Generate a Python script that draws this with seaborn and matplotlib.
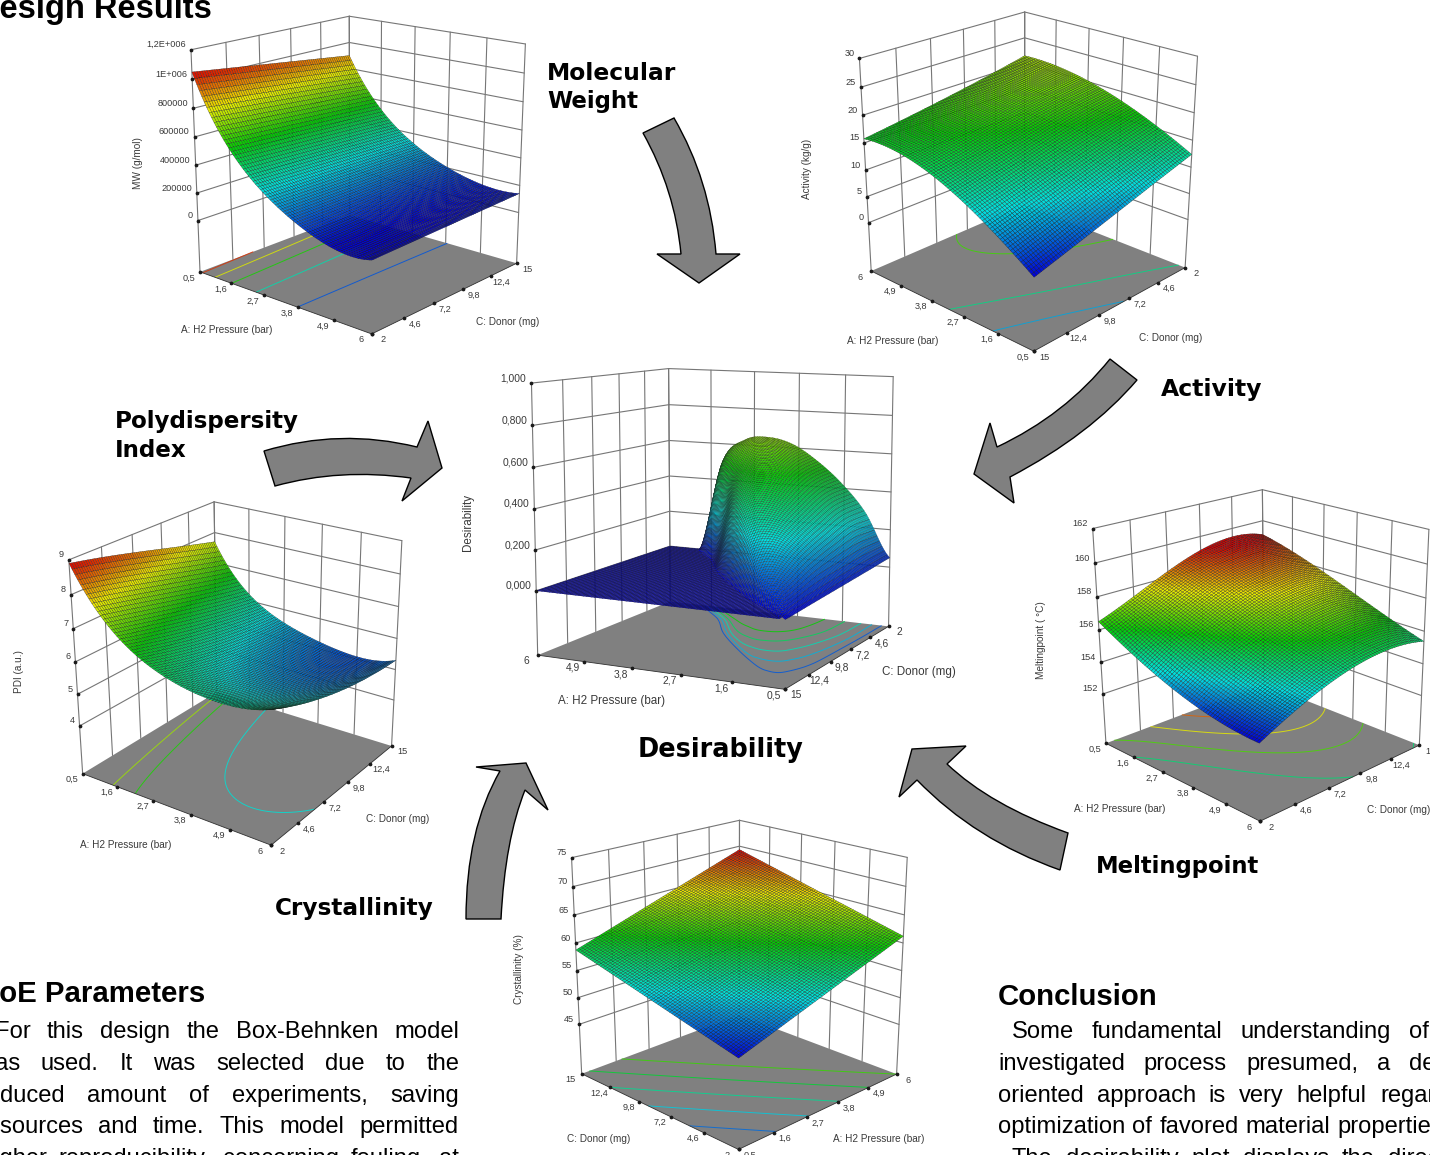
import numpy as np
import matplotlib
matplotlib.use("Agg")
import matplotlib.pyplot as plt
from matplotlib.path import Path
from matplotlib.patches import PathPatch
from mpl_toolkits.mplot3d.art3d import Poly3DCollection
import seaborn as sns

# ---------- data ----------
A_TICKS = [0.5, 1.6, 2.7, 3.8, 4.9, 6.0]
C_TICKS = [2.0, 4.6, 7.2, 9.8, 12.4, 15.0]
A_LABELS = ["0,5", "1,6", "2,7", "3,8", "4,9", "6"]
C_LABELS = ["2", "4,6", "7,2", "9,8", "12,4", "15"]

MW_Z = [[1050000, 1020000, 990000, 960000, 930000, 900000],
        [600000, 586000, 572000, 558000, 544000, 530000],
        [360000, 354000, 348000, 342000, 336000, 330000],
        [190000, 192000, 194000, 196000, 198000, 200000],
        [110000, 116000, 122000, 128000, 134000, 140000],
        [110000, 116000, 122000, 128000, 134000, 140000]]
ACT_Z = [[12.4, 10.7, 8.9, 7.2, 5.4, 3.7],
         [15.5, 14.2, 12.6, 11.0, 9.4, 7.8],
         [18.3, 17.3, 16.0, 14.6, 13.2, 11.8],
         [20.2, 19.4, 18.3, 16.9, 15.7, 14.4],
         [21.2, 20.5, 19.2, 18.0, 16.8, 15.6],
         [21.5, 20.2, 18.9, 17.8, 16.8, 15.8]]
PDI_Z = [[8.9, 8.7, 8.45, 8.2, 7.95, 7.7],
         [7.35, 7.1, 6.85, 6.6, 6.4, 6.2],
         [6.6, 6.3, 6.05, 5.85, 5.7, 5.6],
         [6.2, 5.85, 5.6, 5.4, 5.25, 5.2],
         [6.15, 5.8, 5.5, 5.3, 5.15, 5.1],
         [6.4, 6.0, 5.7, 5.5, 5.35, 5.3]]
MELT_Z = [[156.5, 157.4, 158.4, 159.1, 159.5, 159.1],
          [155.5, 156.7, 157.8, 158.5, 158.8, 158.5],
          [154.6, 156.0, 157.1, 157.8, 158.1, 157.8],
          [153.9, 155.3, 156.4, 157.1, 157.3, 157.0],
          [153.5, 154.7, 155.7, 156.3, 156.5, 156.1],
          [153.3, 154.3, 155.1, 155.6, 155.7, 155.4]]
CRYST_Z = [[51.0, 52.5, 54.1, 55.6, 57.2, 58.7],
           [53.0, 54.6, 56.2, 57.7, 59.3, 60.8],
           [55.1, 56.7, 58.3, 59.9, 61.4, 63.0],
           [57.1, 58.7, 60.3, 62.0, 63.6, 65.1],
           [59.2, 60.8, 62.4, 64.0, 65.6, 67.2],
           [61.2, 62.8, 64.4, 66.1, 67.7, 69.3]]
# Desirability: where the hump ends on the A axis for each C tick, and its height
# from A = 0.5 to that end in eight equal steps (rows: C ticks).
DES_EDGE = [5.2, 4.3, 3.6, 2.7, 1.7, 0.6]
DES_PROFILE = [[.05, .28, .43, .54, .62, .65, .63, .50, .00],
               [.04, .24, .37, .46, .53, .56, .54, .43, .00],
               [.03, .18, .28, .35, .40, .42, .41, .32, .00],
               [.02, .115, .18, .225, .26, .27, .26, .21, .00],
               [.01, .05, .075, .095, .11, .115, .11, .09, .00],
               [.00, .005, .008, .01, .01, .01, .01, .008, .00]]

MW_TICKS = [0, 200000, 400000, 600000, 800000, 1000000, 1200000]
MW_TLAB = ["0", "200000", "400000", "600000", "800000", "1E+006", "1,2E+006"]
ACT_TICKS = [0, 5, 10, 15, 20, 25, 30]
DES_TICKS = [0, .2, .4, .6, .8, 1.0]
DES_TLAB = ["0,000", "0,200", "0,400", "0,600", "0,800", "1,000"]
PDI_TICKS = [4, 5, 6, 7, 8, 9]
MELT_TICKS = [152, 154, 156, 158, 160, 162]
CRYST_TICKS = [45, 50, 55, 60, 65, 70, 75]

PARA_LEFT = ["For this design the Box-Behnken model",
             "was used. It was selected due to the",
             "reduced amount of experiments, saving",
             "resources and time. This model permitted",
             "higher reproducibility, concerning fouling, at"]
PARA_RIGHT = ["Some fundamental understanding of the",
              "investigated process presumed, a design",
              "oriented approach is very helpful regarding",
              "optimization of favored material properties.",
              "The desirability plot displays the direct"]

# ---------- style ----------
sns.set_theme(style="white")
plt.rcParams["font.family"] = ["Liberation Sans", "DejaVu Sans"]
W, H = 1430, 1155
SURF = sns.blend_palette([(0, 0, .85), (0, .88, .88), (0, .82, 0), (.92, .92, 0), (.85, 0, 0)],
                         n_colors=256, as_cmap=True)
fig = plt.figure(figsize=(W / 100, H / 100), dpi=100, facecolor="white")
bg = fig.add_axes([0, 0, 1, 1], zorder=0)
bg.set_xlim(0, W); bg.set_ylim(H, 0); bg.axis("off")
renderer = fig.canvas.get_renderer()


def cr_weights(n, t):
    t = np.asarray(t, float)
    i = np.clip(np.floor(t).astype(int), 0, n - 2)
    u = t - i
    w = np.zeros((len(t), n))
    for k in range(len(t)):
        a = [max(i[k] - 1, 0), i[k], i[k] + 1, min(i[k] + 2, n - 1)]
        x = u[k]
        c = [-.5 * x**3 + x**2 - .5 * x, 1.5 * x**3 - 2.5 * x**2 + 1,
             -1.5 * x**3 + 2 * x**2 + .5 * x, .5 * x**3 - .5 * x**2]
        for j, q in zip(a, c):
            w[k, j] += q
    return w


def smooth_weights(nodes, fine, deg):
    nodes = np.asarray(nodes, float)
    s = lambda v: (np.asarray(v) - nodes[0]) / (nodes[-1] - nodes[0]) * 2 - 1
    return np.polynomial.polynomial.polyvander(s(fine), deg) @ np.linalg.pinv(
        np.polynomial.polynomial.polyvander(s(nodes), deg))


M_FINE = 72
AF = np.linspace(A_TICKS[0], A_TICKS[-1], M_FINE)
CF = np.linspace(C_TICKS[0], C_TICKS[-1], M_FINE)


def smooth_surface(Z, deg=(4, 3)):
    return smooth_weights(A_TICKS, AF, deg[0]) @ np.asarray(Z, float) @ smooth_weights(C_TICKS, CF, deg[1]).T


def desirability_surface():
    af = np.linspace(A_TICKS[0], A_TICKS[-1], 90)
    cf = np.linspace(C_TICKS[0], C_TICKS[-1], 90)
    tc = (cf - cf[0]) / (cf[-1] - cf[0]) * 5
    wc = cr_weights(6, tc)
    edge = wc @ np.asarray(DES_EDGE)
    prof = wc @ np.asarray(DES_PROFILE)
    out = np.zeros((len(af), len(cf)))
    for j in range(len(cf)):
        s = (af - af[0]) / (edge[j] - af[0])
        inside = s <= 1
        out[inside, j] = cr_weights(9, s[inside] * 8) @ prof[j]
    return af, cf, np.clip(out, 0, None)


def fit_camera(world, plane, lo, hi):
    """3x4 camera from box corners to the 2D plane of the axes."""
    world = np.asarray(world, float)
    lo, hi = np.asarray(lo, float), np.asarray(hi, float)
    nw = (world - lo) / (hi - lo)
    rows = []
    for (x, y, z), (u, v) in zip(nw, plane):
        rows.append([x, y, z, 1, 0, 0, 0, 0, -u * x, -u * y, -u * z, -u])
        rows.append([0, 0, 0, 0, x, y, z, 1, -v * x, -v * y, -v * z, -v])
    P = np.linalg.svd(np.array(rows))[2][-1].reshape(3, 4)
    if P[2] @ np.array([.5, .5, .5, 1]) < 0:
        P = -P
    N = np.diag(list(1 / (hi - lo)) + [1.0])
    N[:3, 3] = -lo / (hi - lo)
    P = P @ N
    return np.vstack([P[0], P[1], [0, 0, 0, -1], P[2]])


def panel(af, cf, Zf, floor, top, zticks, zlabels, corners, pix, vmin, vmax, levels,
          titles, fs=6.6, title_fs=7.2, zfs=None, mesh=.2):
    xs = [p[0] for p in pix.values()]
    ys = [p[1] for p in pix.values()]
    cx, cy = (min(xs) + max(xs)) / 2, (min(ys) + max(ys)) / 2
    s = max(max(xs) - min(xs), max(ys) - min(ys)) * 1.15
    ax = fig.add_axes([(cx - s / 2) / W, 1 - (cy + s / 2) / H, s / W, s / H],
                      projection="3d", zorder=2)
    ax.set_axis_off()
    ax.patch.set_visible(False)
    ax.computed_zorder = False
    ax.apply_aspect()
    inv = ax.transData.inverted()

    def to_plane(p):
        return inv.transform((p[0], H - p[1]))

    world, plane = [], []
    for name in ("left", "front", "right", "back"):
        world.append((*corners[name], floor)); plane.append(to_plane(pix[name]))
    for name in ("left", "back", "right"):
        world.append((*corners[name], top)); plane.append(to_plane(pix["top_" + name]))
    M = fit_camera(world, plane, (0.5, 2, floor), (6, 15, top))
    ax.get_proj = lambda: M

    AA, CC = np.meshgrid(af, cf, indexing="ij")
    grey = "#767676"
    lw = .8
    for wall in ("left", "right"):
        p0, p1 = corners["back"], corners[wall]
        for z in zticks:
            ax.plot3D([p0[0], p1[0]], [p0[1], p1[1]], [z, z], color=grey, lw=lw, zorder=1)
        if p0[0] != p1[0]:
            for a in A_TICKS:
                ax.plot3D([a, a], [p0[1], p0[1]], [floor, top], color=grey, lw=lw, zorder=1)
        else:
            for c in C_TICKS:
                ax.plot3D([p0[0], p0[0]], [c, c], [floor, top], color=grey, lw=lw, zorder=1)
    quad = [(*corners[k], floor) for k in ("left", "front", "right", "back")]
    ax.add_collection3d(Poly3DCollection([quad], facecolor="#808080", edgecolor="none", zorder=2))
    colors = [SURF((l - vmin) / (vmax - vmin)) for l in levels]
    ax.contour(AA, CC, Zf, levels=levels, zdir="z", offset=floor, colors=colors,
               linewidths=.7, alpha=.85, zorder=3)
    ax.plot_surface(AA, CC, Zf, rstride=1, cstride=1, cmap=SURF, vmin=vmin, vmax=vmax,
                    edgecolor="k", linewidth=mesh, shade=False, antialiased=True, zorder=4)

    ax.plot3D(*zip(*[(*corners["left"], floor), (*corners["front"], floor), (*corners["right"], floor)]),
              color="#303030", lw=.6, zorder=5)

    def put(x, y, z, label, dx, dy, ha, size):
        v = M @ np.array([x, y, z, 1.0])
        ax.annotate(label, xy=(v[0] / v[3], v[1] / v[3]), xytext=(dx, dy), textcoords="offset pixels",
                    ha=ha, va="center", fontsize=size, color="#3a3a3a", annotation_clip=False, zorder=7)
        ax.plot3D([x], [y], [z], ls="none", marker="o", ms=1.7, color="k", zorder=6)

    def edge(p0, p1, dx, dy):
        if p0[0] != p1[0]:
            for a, lab in zip(A_TICKS, A_LABELS):
                put(a, p0[1], floor, lab, dx, dy, "center", fs)
        else:
            for c, lab in zip(C_TICKS, C_LABELS):
                put(p0[0], c, floor, lab, dx, dy, "center", fs)

    edge(corners["left"], corners["front"], -11, -6)
    edge(corners["front"], corners["right"], 11, -6)
    for z, lab in zip(zticks, zlabels):
        put(*corners["left"], z, lab, -5, 5, "right", zfs or fs)

    for txt, x, y, rot, ha in titles:
        bg.text(x, y, txt, ha=ha, va="center", rotation=rot, fontsize=title_fs, color="#3a3a3a")
    return ax


def strs(v):
    return [str(x) for x in v]


panel(AF, CF, smooth_surface(MW_Z), -381000, 1200000, MW_TICKS, MW_TLAB,
      dict(left=(.5, 2), front=(6, 2), right=(6, 15), back=(.5, 15)),
      dict(left=(200, 270.7), front=(371.7, 335), right=(516.7, 262), back=(349.7, 216.5),
           top_left=(191, 50), top_back=(349.3, 15.7), top_right=(525.3, 44.3)),
      110000, 1050000, [200000, 400000, 600000, 800000, 1000000],
      [("A: H2 Pressure (bar)", 227, 330, 0, "center"), ("C: Donor (mg)", 508, 322, 0, "center"),
       ("MW (g/mol)", 138, 163, 90, "center")])
panel(AF, CF, smooth_surface(ACT_Z, (3, 3)), -9.5, 30, ACT_TICKS, strs(ACT_TICKS),
      dict(left=(6, 15), front=(.5, 15), right=(.5, 2), back=(6, 2)),
      dict(left=(871.7, 270.7), front=(1033.3, 351.7), right=(1185.7, 266.7), back=(1024, 205.3),
           top_left=(859.3, 58.3), top_back=(1025, 11.7), top_right=(1197.3, 56.7)),
      3.7, 30, [8.6, 13, 18.5],
      [("A: H2 Pressure (bar)", 893, 341, 0, "center"), ("C: Donor (mg)", 1170.5, 338, 0, "center"),
       ("Activity (kg/g)", 807, 169, 90, "center")])
panel(*desirability_surface(), -.32, 1.0, DES_TICKS, DES_TLAB,
      dict(left=(6, 15), front=(.5, 15), right=(.5, 2), back=(6, 2)),
      dict(left=(537.3, 654.3), front=(785, 690), right=(888.3, 625.7), back=(670.7, 602.3),
           top_left=(531.7, 383.3), top_back=(668.3, 368.3), top_right=(893.3, 376.7)),
      0, 1, [.1, .2, .3, .4, .5],
      [("A: H2 Pressure (bar)", 611, 701, 0, "center"), ("C: Donor (mg)", 919, 672, 0, "center"),
       ("Desirability", 468, 522, 90, "center")], fs=7.4, title_fs=8.4, zfs=7.4, mesh=.16)
panel(AF, CF, smooth_surface(PDI_Z, (4, 3)), 2.45, 9, PDI_TICKS, strs(PDI_TICKS),
      dict(left=(.5, 2), front=(6, 2), right=(6, 15), back=(.5, 15)),
      dict(left=(81.7, 774.3), front=(271.7, 844.3), right=(390.7, 747.3), back=(218, 691),
           top_left=(69.3, 560), top_back=(213.3, 502.3), top_right=(402.3, 540)),
      4.7, 8.9, [5.8, 6.9, 7.5],
      [("A: H2 Pressure (bar)", 126, 845, 0, "center"), ("C: Donor (mg)", 397.5, 819, 0, "center"),
       ("PDI (a.u.)", 19, 671.5, 90, "center")])
panel(AF, CF, smooth_surface(MELT_Z, (3, 3)), 148.8, 162, MELT_TICKS, strs(MELT_TICKS),
      dict(left=(.5, 2), front=(6, 2), right=(6, 15), back=(.5, 15)),
      dict(left=(1106, 744), front=(1260, 820.7), right=(1419.3, 745.7), back=(1264, 683.3),
           top_left=(1092.7, 528.3), top_back=(1262.3, 490), top_right=(1429, 529.3)),
      153.3, 159.2, [155.5, 156.7, 157.7, 158.6],
      [("A: H2 Pressure (bar)", 1120, 809, 0, "center"), ("C: Donor (mg)", 1367, 810, 0, "left"),
       ("Meltingpoint ( °C)", 1041, 640, 90, "center")])
panel(AF, CF, smooth_surface(CRYST_Z, (1, 1)), 35.5, 75, CRYST_TICKS, strs(CRYST_TICKS),
      dict(left=(.5, 15), front=(.5, 2), right=(6, 2), back=(6, 15)),
      dict(left=(581.7, 1073.3), front=(738.3, 1150), right=(896.7, 1073.3), back=(739.3, 1015.7),
           top_left=(571.7, 857.7), top_back=(739.3, 820), top_right=(907.3, 857.7)),
      51, 69.3, [53.2, 55.2, 57.2, 59.2, 61.2],
      [("C: Donor (mg)", 599, 1139, 0, "center"), ("A: H2 Pressure (bar)", 879, 1139, 0, "center"),
       ("Crystallinity (%)", 519, 969.5, 90, "center")])

# ---------- arrows ----------
ARROWS = [
    [(643, 133), (674, 118), ("q", 710, 180, 716, 254), (740, 254), (699, 283), (657, 254), (681, 254),
     ("q", 675, 190, 643, 133)],
    [(1137, 380), ("q", 1090, 435, 1010, 477), (1014, 503), (974, 474), (990, 423), (997, 447),
     ("q", 1065, 415, 1110, 359)],
    [(264, 451), ("q", 340, 428, 417, 447), (428, 421), (442, 468), (402, 501), (411, 478),
     ("q", 340, 468, 275, 486)],
    [(466, 919), ("q", 466, 830, 500, 771), (476, 767), (526, 763), (548, 810), (525, 790),
     ("q", 505, 840, 501, 919)],
    [(1068, 833), ("q", 990, 805, 947, 764), (966, 746), (912, 749), (899, 797), (917, 780),
     ("q", 975, 840, 1060, 870)],
]
for shape in ARROWS:
    verts, codes = [], []
    for i, p in enumerate(shape):
        if p[0] == "q":
            verts += [p[1:3], p[3:5]]; codes += [Path.CURVE3, Path.CURVE3]
        else:
            verts.append(p); codes.append(Path.MOVETO if i == 0 else Path.LINETO)
    verts.append(shape[0]); codes.append(Path.CLOSEPOLY)
    bg.add_patch(PathPatch(Path(verts, codes), facecolor="#808080", edgecolor="black", lw=1.0, zorder=2))

# ---------- texts ----------
for txt, x, y, size in [("Molecular", 547, 80, 16.8), ("Weight", 547, 108, 16.5), ("Activity", 1161, 396, 16.9),
                        ("Polydispersity", 115, 428, 16.6), ("Index", 115, 457, 16.6),
                        ("Desirability", 638, 757, 18.4), ("Meltingpoint", 1096, 873, 16.4),
                        ("Crystallinity", 275, 915, 16.7)]:
    bg.text(x, y, txt, fontsize=size, fontweight="bold", family="DejaVu Sans", color="black", va="baseline")

bg.text(212, 18, "Design Results", ha="right", va="baseline", fontsize=23.5, fontweight="bold", color="black")
bg.text(205, 1002, "DoE Parameters", ha="right", va="baseline", fontsize=21.2, fontweight="bold", color="black")
bg.text(998, 1005, "Conclusion", ha="left", va="baseline", fontsize=21.2, fontweight="bold", color="black")


def words_line(line, x0, y, x1=None, gap=None, size=17.1):
    ts = [bg.text(0, y, w, fontsize=size, color="black", va="baseline") for w in line.split()]
    ws = [t.get_window_extent(renderer).width for t in ts]
    if x1 is not None:
        gap = (x1 - x0 - sum(ws)) / (len(ws) - 1)
    x = x0
    for t, w in zip(ts, ws):
        t.set_x(x)
        x += w + gap


for line, x0, y in zip(PARA_LEFT, [-5, -22, -21, -21, -19], [1038, 1070, 1102, 1133, 1165]):
    words_line(line, x0, y, x1=459)
for line, x0, y, gap in zip(PARA_RIGHT, [1012, 998, 998, 998, 1012], [1038, 1070, 1102, 1133, 1165],
                            [18, 19, 13, 7, 13]):
    words_line(line, x0, y, gap=gap)

fig.savefig("out.png", dpi=100, facecolor="white")
